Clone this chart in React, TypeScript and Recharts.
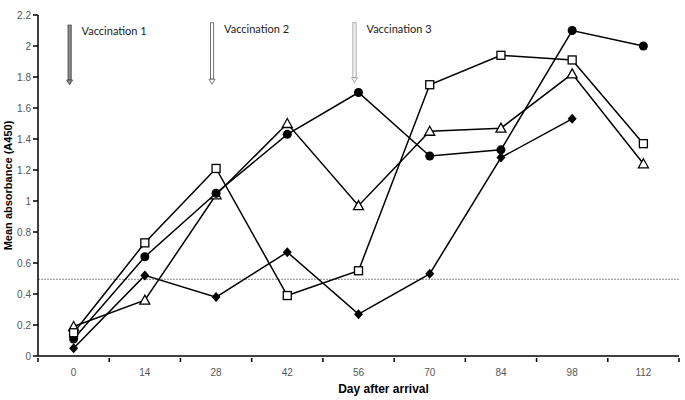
import { LineChart, Line, XAxis, YAxis, ReferenceLine } from "recharts";

document.body.style.margin = "0";

const DAYS = ["0", "14", "28", "42", "56", "70", "84", "98", "112"];
const CIRCLE = [0.11, 0.64, 1.05, 1.43, 1.7, 1.29, 1.33, 2.1, 2.0];
const SQUARE = [0.15, 0.73, 1.21, 0.39, 0.55, 1.75, 1.94, 1.91, 1.37];
const TRIANGLE = [0.19, 0.36, 1.04, 1.5, 0.97, 1.45, 1.47, 1.82, 1.24];
const DIAMOND = [0.05, 0.52, 0.38, 0.67, 0.27, 0.53, 1.28, 1.53, null];
const Y_TICKS = [0, 0.2, 0.4, 0.6, 0.8, 1, 1.2, 1.4, 1.6, 1.8, 2, 2.2];
const CUTOFF = 0.495;
const VACCINATIONS = [
  { day: "0", label: "Vaccination 1", top: 2.135, bottom: 1.755, fill: "#8a8a8a", stroke: "#444" },
  { day: "28", label: "Vaccination 2", top: 2.15, bottom: 1.76, fill: "#fff", stroke: "#555" },
  { day: "56", label: "Vaccination 3", top: 2.15, bottom: 1.77, fill: "#f4f4f4", stroke: "#999" },
];

const data = DAYS.map((d, i) => ({
  day: d,
  circle: CIRCLE[i],
  square: SQUARE[i],
  triangle: TRIANGLE[i],
  diamond: DIAMOND[i],
}));

const LEFT = 38;
const RIGHT = 6;
const HALF_BAND = (685 - LEFT - RIGHT) / DAYS.length / 2;
const FONT = "'Liberation Sans', Arial, sans-serif";

function XTick({ x, y, payload, index }: any) {
  const last = index === DAYS.length - 1;
  const ay = y - 6;
  return (
    <g>
      <line x1={x - HALF_BAND} x2={x - HALF_BAND} y1={ay} y2={ay + 4} stroke="#000" strokeWidth={1.5} />
      {last && <line x1={x + HALF_BAND} x2={x + HALF_BAND} y1={ay} y2={ay + 4} stroke="#000" strokeWidth={1.5} />}
      <text x={x} y={ay + 18} textAnchor="middle" fontSize={10} fill="#555" fontFamily={FONT}>{payload.value}</text>
    </g>
  );
}

function Circle({ cx, cy }: any) {
  if (cy == null) return null;
  return <circle cx={cx} cy={cy} r={4.5} fill="#000" />;
}
function Square({ cx, cy }: any) {
  if (cy == null) return null;
  return <rect x={cx - 4} y={cy - 4} width={8} height={8} fill="#fff" stroke="#000" strokeWidth={1.3} />;
}
function Triangle({ cx, cy }: any) {
  if (cy == null) return null;
  return <polygon points={`${cx},${cy - 5} ${cx - 5},${cy + 4} ${cx + 5},${cy + 4}`} fill="#fff" stroke="#000" strokeWidth={1.3} />;
}
function Diamond({ cx, cy }: any) {
  if (cy == null) return null;
  return <polygon points={`${cx},${cy - 5} ${cx + 4.5},${cy} ${cx},${cy + 5} ${cx - 4.5},${cy}`} fill="#000" />;
}

function arrowShape(v: (typeof VACCINATIONS)[number]) {
  return (props: any) => {
    const x = props.x1 - 4;
    const y1 = Math.min(props.y1, props.y2);
    const y2 = Math.max(props.y1, props.y2);
    return (
      <g>
        <rect x={x - 1.6} y={y1} width={3.2} height={y2 - y1 - 4} fill={v.fill} stroke={v.stroke} strokeWidth={0.8} />
        <polygon points={`${x - 3},${y2 - 4} ${x + 3},${y2 - 4} ${x},${y2 + 1}`} fill={v.fill} stroke={v.stroke} strokeWidth={0.8} />
        <text x={x + 12} y={y1 + 10} fontSize={11} fill="#222" fontFamily="Lato, 'Open Sans', sans-serif">{v.label}</text>
      </g>
    );
  };
}

export default function App() {
  return (
    <LineChart width={685} height={400} data={data} margin={{ top: 15, right: RIGHT, bottom: 0, left: 0 }}>
      <XAxis
        dataKey="day"
        height={44}
        padding={{ left: HALF_BAND, right: HALF_BAND }}
        tick={<XTick />}
        tickLine={false}
        axisLine={{ stroke: "#000", strokeWidth: 1.5 }}
        label={{ value: "Day after arrival", position: "insideBottom", offset: 7, dx: 25, fontSize: 12, fontWeight: "bold", fill: "#000", fontFamily: FONT }}
      />
      <YAxis
        width={LEFT}
        domain={[0, 2.2]}
        ticks={Y_TICKS}
        interval={0}
        tick={{ fontSize: 10, fill: "#555", fontFamily: FONT }}
        tickSize={5}
        tickLine={{ stroke: "#000", strokeWidth: 1.5 }}
        axisLine={{ stroke: "#000", strokeWidth: 1.5 }}
        label={{ value: "Mean absorbance (A450)", angle: -90, position: "center", dx: -11, fontSize: 11, fontWeight: "bold", fill: "#000", fontFamily: FONT }}
      />
      <ReferenceLine y={CUTOFF} stroke="#888" strokeWidth={1} strokeDasharray="2 1" />
      {VACCINATIONS.map(v => (
        <ReferenceLine
          key={v.day}
          segment={[{ x: v.day, y: v.top }, { x: v.day, y: v.bottom }]}
          shape={arrowShape(v)}
        />
      ))}
      <Line dataKey="diamond" stroke="#000" strokeWidth={1.5} dot={<Diamond />} isAnimationActive={false} />
      <Line dataKey="triangle" stroke="#000" strokeWidth={1.5} dot={<Triangle />} isAnimationActive={false} />
      <Line dataKey="circle" stroke="#000" strokeWidth={1.5} dot={<Circle />} isAnimationActive={false} />
      <Line dataKey="square" stroke="#000" strokeWidth={1.5} dot={<Square />} isAnimationActive={false} />
    </LineChart>
  );
}
